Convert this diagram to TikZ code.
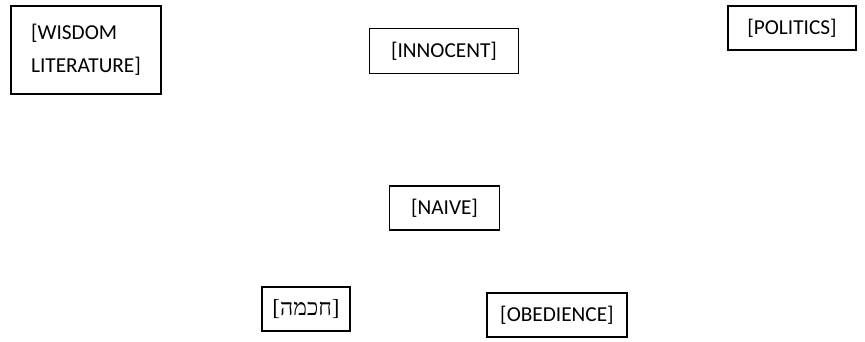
\documentclass[tikz,border=0pt]{standalone}
\usepackage{fontspec}
\setmainfont{Carlito}
\newfontfamily\hebfont[Script=Hebrew]{Liberation Serif}
\newfontfamily\brfont{Liberation Serif}
\TeXXeTstate=1
\begin{document}
\begin{tikzpicture}[x=1pt,y=-1pt,
  box/.style={draw=black, line width=1.4pt, inner sep=0pt, align=left,
    font=\fontsize{21.3}{33}\selectfont}]
\useasboundingbox[fill=white] (0,0) rectangle (865,341);
\node[box, minimum width=150, minimum height=88] (wisdom) at (86,50) {[WISDOM\\LITERATURE]};
\node[box, minimum width=149, minimum height=45] (innocent) at (444,51) {[INNOCENT]};
\node[box, minimum width=128, minimum height=44] (politics) at (792,28) {[POLITICS]};
\node[box, minimum width=110, minimum height=44] (naive) at (444.5,208) {[NAIVE]};
\node[box, minimum width=88, minimum height=44] (hokhmah) at (306,309) {{\fontsize{23}{28}\selectfont\brfont[{\hebfont\beginR חכמה\endR}]}};
\node[box, minimum width=140, minimum height=44] (obedience) at (557,315) {[OBEDIENCE]};
\end{tikzpicture}
\end{document}
